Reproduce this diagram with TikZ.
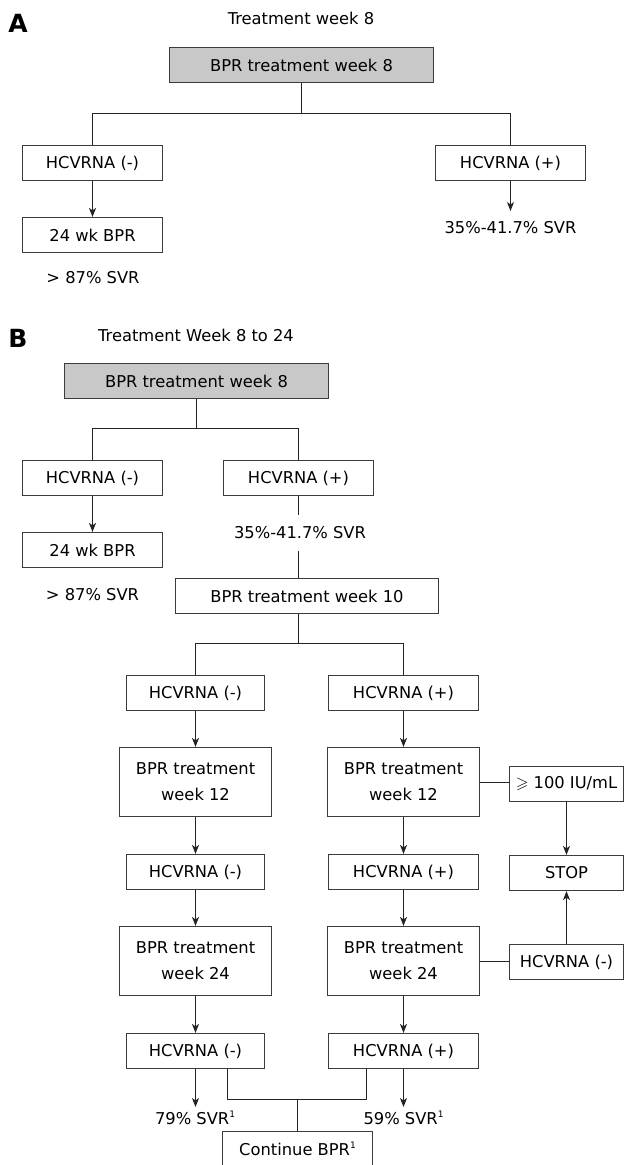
\documentclass[tikz,border=0pt]{standalone}
\usepackage{fontspec}
\usepackage{amssymb}
\setmainfont{DejaVu Sans}
\usetikzlibrary{arrows.meta}
\definecolor{boxgray}{RGB}{200,200,200}
\definecolor{linecol}{RGB}{35,35,35}
\definecolor{bordcol}{RGB}{60,60,60}
\newcommand{\myfs}{\fontsize{16.3}{26}\selectfont}
\newcommand{\mylab}{\fontsize{25}{25}\selectfont\bfseries}
\newcommand{\supone}{\raisebox{6.5pt}{\fontsize{9}{9}\selectfont 1}}
\begin{document}
\begin{tikzpicture}[x=1pt,y=-1pt,
  box/.style={draw=bordcol, line width=1.2pt, inner sep=0pt, minimum height=35pt, align=center, font=\myfs},
  tallbox/.style={box, minimum height=69pt},
  gbox/.style={box, fill=boxgray},
  txt/.style={inner sep=0pt, font=\myfs},
  ln/.style={draw=linecol, line width=1pt},
  arr/.style={ln, -{Stealth[length=9pt,width=7pt,inset=2.5pt]}}]
\useasboundingbox (0,0) rectangle (624,1165);
\clip (0,0) rectangle (624,1165);
\fill[white] (0,0) rectangle (624,1165);

% ---------- Panel A ----------
\node[font=\mylab, inner sep=0pt] (labA) at (18,23) {A};
\node[txt] (titA) at (301,18) {Treatment week 8};
\node[gbox, minimum width=264pt] (gA) at (301.5,65) {BPR treatment week 8};
\node[box, minimum width=140pt] (nA) at (92.5,163) {HCVRNA (-)};
\node[box, minimum width=150pt] (pA) at (510.5,163) {HCVRNA (+)};
\node[box, minimum width=140pt] (bA) at (92.5,235) {24 wk BPR};
\node[txt] (sA) at (510.5,228) {35\%-41.7\% SVR};
\node[txt] (eA) at (93,278) {> 87\% SVR};
\coordinate (jA) at (301.5,113.5);
\coordinate (aA) at (510.5,211);
\draw[ln] (gA.south) -- (jA);
\draw[ln] (nA.north) |- (jA) -| (pA.north);
\draw[arr] (nA) -- (bA);
\draw[arr] (pA.south) -- (aA);

% ---------- Panel B ----------
\node[font=\mylab, inner sep=0pt] (labB) at (18,338) {B};
\node[txt] (titB) at (196,335) {Treatment Week 8 to 24};
\node[gbox, minimum width=264pt] (gB) at (196.5,381) {BPR treatment week 8};
\coordinate (jB) at (196.5,428.5);
\node[box, minimum width=140pt] (nB) at (92.5,478) {HCVRNA (-)};
\node[box, minimum width=150pt] (pB) at (298.5,478) {HCVRNA (+)};
\node[box, minimum width=140pt] (bB) at (92.5,550) {24 wk BPR};
\node[txt] (eB) at (92.5,595) {> 87\% SVR};
\node[txt, minimum height=35pt] (sB) at (300,533) {35\%-41.7\% SVR};
\node[box, minimum width=263pt] (w10) at (307,596) {BPR treatment week 10};
\draw[ln] (gB.south) -- (jB);
\draw[ln] (nB.north) |- (jB) -| (pB.north);
\draw[arr] (nB) -- (bB);
\draw[ln] (pB.south) -- (pB.south |- sB.north);
\draw[ln] (pB.south |- sB.south) -- (pB.south |- w10.north);

% week 10 branches
\coordinate (j10) at (298.5,643.5);
\node[box, minimum width=138pt] (n10) at (195.5,693) {HCVRNA (-)};
\node[box, minimum width=150pt] (p10) at (403.5,693) {HCVRNA (+)};
\draw[ln] (j10 |- w10.south) -- (j10);
\draw[ln] (n10.north) |- (j10) -| (p10.north);

% week 12
\node[tallbox, minimum width=152pt] (w12L) at (195.5,782) {BPR treatment\\week 12};
\node[tallbox, minimum width=152pt] (w12R) at (403.5,782) {BPR treatment\\week 12};
\node[box, minimum width=114pt] (ge) at (566.5,784) {$\geqslant$ 100 IU/mL};
\node[box, minimum width=114pt] (stop) at (566.5,873) {STOP};
\draw[arr] (n10) -- (w12L);
\draw[arr] (p10) -- (w12R);
\draw[ln] (w12R.east) -- (w12R.east -| ge.west);
\draw[arr] (ge) -- (stop);

\node[box, minimum width=138pt] (n12) at (195.5,872) {HCVRNA (-)};
\node[box, minimum width=150pt] (p12) at (403.5,872) {HCVRNA (+)};
\draw[arr] (w12L) -- (n12);
\draw[arr] (w12R) -- (p12);

% week 24
\node[tallbox, minimum width=152pt] (w24L) at (195.5,961) {BPR treatment\\week 24};
\node[tallbox, minimum width=152pt] (w24R) at (403.5,961) {BPR treatment\\week 24};
\node[box, minimum width=114pt] (n24R) at (566.5,962) {HCVRNA (-)};
\draw[arr] (n12) -- (w24L);
\draw[arr] (p12) -- (w24R);
\draw[ln] (w24R.east) -- (w24R.east -| n24R.west);
\draw[arr] (n24R) -- (stop);

\node[box, minimum width=138pt] (n24) at (195.5,1051) {HCVRNA (-)};
\node[box, minimum width=150pt] (p24) at (403.5,1051) {HCVRNA (+)};
\draw[arr] (w24L) -- (n24);
\draw[arr] (w24R) -- (p24);

% outcomes
\node[txt] (s79) at (195,1118) {79\% SVR\supone};
\node[txt] (s59) at (403.5,1118) {59\% SVR\supone};
\coordinate (a79) at (195.5,1107);
\coordinate (a59) at (403.5,1107);
\draw[arr] (n24.south) -- (a79);
\draw[arr] (p24.south) -- (a59);

\node[box, minimum width=150pt] (cont) at (297.5,1149) {Continue BPR\supone};
\coordinate (jb) at (297.5,1099.5);
\draw[ln] ([xshift=32pt]n24.south) |- (jb) -| ([xshift=-37pt]p24.south);
\draw[ln] (jb) -- (cont.north -| jb);
\end{tikzpicture}
\end{document}
